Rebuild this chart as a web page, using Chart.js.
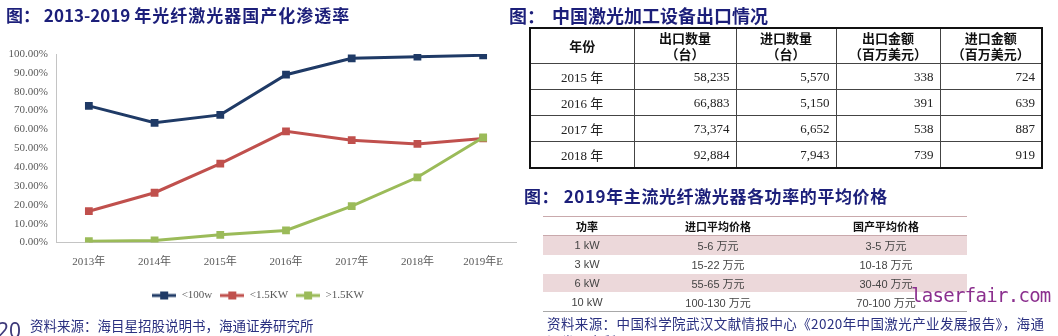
<!DOCTYPE html>
<html>
<head>
<meta charset="utf-8">
<script src="https://cdn.jsdelivr.net/npm/chart.js@4.4.0/dist/chart.umd.min.js"></script>
<style>
  body { margin: 0; width: 1058px; height: 336px; overflow: hidden; background: #fff; position: relative; }
  .title { position: absolute; font: bold 18px 'Noto Sans CJK SC'; color: #1c1f7a; white-space: nowrap; line-height: 24px; }
  .source { position: absolute; font: 13.5px 'Noto Sans CJK SC'; color: #2a3080; white-space: nowrap; line-height: 18px; }
  #chartBox { position: absolute; left: 0; top: 0; width: 525px; height: 336px; }

  #exportTable { position: absolute; left: 529px; top: 27px; width: 512px; border-collapse: collapse; table-layout: fixed; border: 2px solid #111; }
  #exportTable th, #exportTable td { border: 1px solid #444; padding: 0; }
  #exportTable th { height: 34px; font: bold 13px 'Noto Sans CJK SC'; line-height: 16px; color: #111; text-align: center; }
  #exportTable td { height: 25px; font: 13px 'Liberation Serif', 'Noto Sans CJK SC'; color: #222; text-align: right; padding-right: 6px; }
  #exportTable td:first-child { text-align: center; padding-right: 0; }

  #priceTable { position: absolute; left: 543px; top: 216px; width: 424px; border-collapse: collapse; table-layout: fixed; font: 11px 'Liberation Sans', 'Noto Sans CJK SC'; color: #444; }
  #priceTable th { height: 18px; padding: 0; border-top: 1px solid #c9a9ac; border-bottom: 1px solid #c9a9ac; font-weight: bold; color: #111; text-align: center; }
  #priceTable td { height: 18.75px; padding: 0; text-align: center; }
  #priceTable tr.shade td { background: #ecd8da; }
  #priceTable tbody tr:last-child td { border-bottom: 1px solid #a8a8a8; }

  #mark { position: absolute; left: 911px; top: 283px; font: 19px 'DejaVu Sans Mono'; letter-spacing: -0.7px; color: #8b2f8e; line-height: 24px; }
  #page { position: absolute; left: -3px; top: 318px; font: 21px 'Noto Sans'; color: #3e3a7a; line-height: 24px; }
</style>
</head>
<body>

<div id="chartBox"><canvas id="shareChart"></canvas></div>

<div class="title" style="left:6px; top:3px; font-size:17px;">图： 2013-2019 <span style="letter-spacing:1px">年光纤激光器国产化渗透率</span></div>
<div class="title" style="left:509px; top:3px;">图：<span style="margin-left:7px">中国激光加工设备出口情况</span></div>
<div class="title" style="left:524px; top:184px; font-size:17px; letter-spacing:0.6px;">图： 2019年主流光纤激光器各功率的平均价格</div>

<table id="exportTable">
  <colgroup><col style="width:104px"><col style="width:102px"><col style="width:100px"><col style="width:104px"><col style="width:102px"></colgroup>
  <thead><tr><th>年份</th><th>出口数量<br>（台）</th><th>进口数量<br>（台）</th><th>出口金额<br>（百万美元）</th><th>进口金额<br>（百万美元）</th></tr></thead>
  <tbody id="exportBody"></tbody>
</table>

<table id="priceTable">
  <colgroup><col style="width:88px"><col style="width:174px"><col style="width:162px"></colgroup>
  <thead><tr><th>功率</th><th>进口平均价格</th><th>国产平均价格</th></tr></thead>
  <tbody id="priceBody"></tbody>
</table>

<div id="mark">laserfair.com</div>
<div id="page">20</div>
<div class="source" style="left:30px; top:316px;">资料来源：海目星招股说明书，海通证券研究所</div>
<div class="source" style="left:547px; top:314px; letter-spacing:0.4px;">资料来源：中国科学院武汉文献情报中心《2020年中国激光产业发展报告》，海通<br>证券研究所</div>

<script>
// localization rate by power class, %
const years = ['2013年', '2014年', '2015年', '2016年', '2017年', '2018年', '2019年E'];
const below100w = [72.5, 63.5, 67.7, 89.0, 97.7, 98.6, 99.3];
const below1500w = [16.6, 26.4, 41.9, 59.0, 54.3, 52.3, 55.2];
const above1500w = [0.7, 1.1, 4.1, 6.4, 19.3, 34.6, 55.7];

// laser processing equipment trade
const tradeYears = ['2015 年', '2016 年', '2017 年', '2018 年'];
const exportUnits = [58235, 66883, 73374, 92884];
const importUnits = [5570, 5150, 6652, 7943];
const exportValue = [338, 391, 538, 739];
const importValue = [724, 639, 887, 919];

// 2019 average prices
const powers = ['1 kW', '3 kW', '6 kW', '10 kW'];
const importPrice = ['5-6 万元', '15-22 万元', '55-65 万元', '100-130 万元'];
const domesticPrice = ['3-5 万元', '10-18 万元', '30-40 万元', '70-100 万元'];

const fmt = n => n.toLocaleString('en-US');
document.getElementById('exportBody').innerHTML = tradeYears.map((y, i) =>
  '<tr><td>' + y + '</td><td>' + fmt(exportUnits[i]) + '</td><td>' + fmt(importUnits[i]) +
  '</td><td>' + fmt(exportValue[i]) + '</td><td>' + fmt(importValue[i]) + '</td></tr>').join('');
document.getElementById('priceBody').innerHTML = powers.map((p, i) =>
  '<tr' + (i % 2 === 0 ? ' class="shade"' : '') + '><td>' + p + '</td><td>' + importPrice[i] +
  '</td><td>' + domesticPrice[i] + '</td></tr>').join('');

// legend swatch: short line with a square marker
function legendIcon(color) {
  const c = document.createElement('canvas');
  c.width = 24; c.height = 10;
  const g = c.getContext('2d');
  g.fillStyle = color;
  g.fillRect(0, 3.5, 24, 3);
  g.fillRect(8, 1, 8, 8);
  return c;
}

const axisFont = { family: "'Liberation Serif', 'Noto Sans CJK SC'", size: 11 };
const series = [
  { label: '<100w', data: below100w, color: '#1f3a66', order: 0 },
  { label: '<1.5KW', data: below1500w, color: '#c0504d', order: 2 },
  { label: '>1.5KW', data: above1500w, color: '#9bbb59', order: 1 }
];

new Chart(document.getElementById('shareChart'), {
  type: 'line',
  data: {
    labels: years,
    datasets: series.map(s => ({
      label: s.label,
      data: s.data,
      order: s.order,
      borderColor: s.color,
      backgroundColor: s.color,
      borderWidth: 3,
      tension: 0,
      pointStyle: 'rect',
      pointRadius: 5.5,
      pointBackgroundColor: s.color,
      pointBorderColor: s.color,
      pointBorderWidth: 0
    }))
  },
  options: {
    responsive: true,
    maintainAspectRatio: false,
    animation: false,
    layout: { padding: { top: 54, right: 9, bottom: 25, left: 0 } },
    plugins: {
      tooltip: { enabled: false },
      legend: {
        position: 'bottom',
        labels: {
          usePointStyle: true,
          pointStyleWidth: 24,
          padding: 8,
          font: axisFont,
          color: '#595959',
          generateLabels: chart => chart.data.datasets.map((ds, i) => ({
            text: ds.label,
            pointStyle: legendIcon(ds.borderColor),
            fillStyle: ds.borderColor,
            strokeStyle: ds.borderColor,
            lineWidth: 0,
            hidden: false,
            datasetIndex: i,
            fontColor: '#595959'
          }))
        }
      }
    },
    scales: {
      x: {
        offset: true,
        grid: { display: false, drawTicks: false },
        border: { color: '#c4c4c4', width: 1 },
        ticks: { color: '#595959', font: axisFont, padding: 13, maxRotation: 0 },
        afterFit: s => { s.height = 39.5; }
      },
      y: {
        min: 0,
        max: 100,
        grid: { display: false, drawTicks: false },
        border: { color: '#c4c4c4', width: 1 },
        ticks: { stepSize: 10, color: '#595959', font: axisFont, padding: 8, callback: v => v.toFixed(2) + '%' },
        afterFit: s => { s.width = 56; }
      }
    }
  }
});
</script>
</body>
</html>
